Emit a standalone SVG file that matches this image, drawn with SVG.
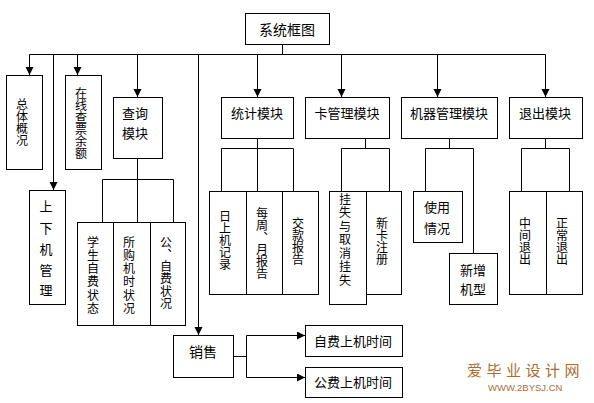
<svg xmlns="http://www.w3.org/2000/svg" width="594" height="403" viewBox="0 0 594 403">
<defs>
<marker id="arr" markerUnits="userSpaceOnUse" markerWidth="9" markerHeight="9" refX="8" refY="4" orient="auto">
<path d="M0,0 L8,4 L0,8 z" fill="#000"/>
</marker>
<style>
.b{fill:#fff;stroke:#000;stroke-width:1}
.c{fill:none;stroke:#000;stroke-width:1}
.t{font-family:"Noto Sans CJK SC","Liberation Sans",sans-serif;font-size:13px;fill:#000;text-anchor:middle}
.v{font-family:"Noto Sans CJK SC","Liberation Sans",sans-serif;font-size:12px;fill:#000;writing-mode:vertical-rl}
.wm{font-family:"Noto Sans CJK SC",serif;fill:#a86f35}
</style>
</defs>
<rect width="594" height="403" fill="#fff"/>
<g id="connectors">
<path class="c" d="M282.5 44 V54.5 M29.5 54.5 H545.5"/>
<path class="c" marker-end="url(#arr)" d="M29.5 54.5 V75"/>
<path class="c" marker-end="url(#arr)" d="M53.5 54.5 V190"/>
<path class="c" marker-end="url(#arr)" d="M77.5 54.5 V75"/>
<path class="c" marker-end="url(#arr)" d="M137.5 54.5 V97"/>
<path class="c" marker-end="url(#arr)" d="M198.5 54.5 V335"/>
<path class="c" marker-end="url(#arr)" d="M257.5 54.5 V97"/>
<path class="c" marker-end="url(#arr)" d="M341.5 54.5 V97"/>
<path class="c" marker-end="url(#arr)" d="M437.5 54.5 V97"/>
<path class="c" marker-end="url(#arr)" d="M545.5 54.5 V97"/>
<path class="c" d="M137.5 158 V222 M102.5 222 V179.5 H173.5 V222"/>
<path class="c" d="M257.5 138 V191 M221.5 191 V148.5 H293.5 V191"/>
<path class="c" d="M365.5 138 V148.5 M341.5 191 V148.5 H389.5 V191"/>
<path class="c" d="M449.5 138 V148.5 M425.5 191 V148.5 H473.5 V253"/>
<path class="c" d="M545.5 138 V148.5 M521.5 191 V148.5 H569.5 V191"/>
<path class="c" d="M233 356.5 H246.5 M246.5 335.5 V377.5"/>
<path class="c" marker-end="url(#arr)" d="M246.5 335.5 H305"/>
<path class="c" marker-end="url(#arr)" d="M246.5 377.5 H305"/>
</g>
<g id="root"><rect class="b" x="245.5" y="13.5" width="84" height="31"/><text class="t" x="287" y="35" style="font-size:14px">系统框图</text></g>
<g id="zongti"><rect class="b" x="6.5" y="75.5" width="36" height="94"/><text class="v" x="22" y="98">总体概况</text></g>
<g id="zaixian"><rect class="b" x="65.5" y="75.5" width="36" height="94"/><text class="v" x="81" y="87">在线查票余额</text></g>
<g id="shangxiaji"><rect class="b" x="29.5" y="190.5" width="36" height="114"/>
<text class="t" x="46" y="211">上</text><text class="t" x="46" y="233">下</text><text class="t" x="46" y="254">机</text><text class="t" x="46" y="275">管</text><text class="t" x="46" y="295">理</text></g>
<g id="chaxun"><rect class="b" x="113.5" y="97.5" width="49" height="61"/><text class="t" x="135" y="118">查询</text><text class="t" x="135" y="138">模块</text></g>
<g id="tongji"><rect class="b" x="221.5" y="97.5" width="72" height="41"/><text class="t" x="257" y="118">统计模块</text></g>
<g id="kaguanli"><rect class="b" x="305.5" y="97.5" width="84" height="41"/><text class="t" x="347" y="118">卡管理模块</text></g>
<g id="jiqi"><rect class="b" x="401.5" y="97.5" width="96" height="41"/><text class="t" x="449" y="118">机器管理模块</text></g>
<g id="tuichu"><rect class="b" x="509.5" y="97.5" width="73" height="41"/><text class="t" x="545" y="118">退出模块</text></g>
<g id="xuesheng"><rect class="b" x="77.5" y="222.5" width="36" height="103"/><text class="v" x="93" y="236" style="letter-spacing:1.3px">学生自费状态</text></g>
<g id="suogou"><rect class="b" x="113.5" y="222.5" width="37" height="103"/><text class="v" x="129" y="236" style="letter-spacing:1.3px">所购机时状况</text></g>
<g id="gongzi"><rect class="b" x="150.5" y="222.5" width="35" height="103"/><text class="v" x="166" y="236" style="letter-spacing:0.3px">公、自费状况</text></g>
<g id="rishangji"><rect class="b" x="209.5" y="191.5" width="37" height="103"/><text class="v" x="225" y="210">日上机记录</text></g>
<g id="meizhou"><rect class="b" x="246.5" y="191.5" width="36" height="103"/><text class="v" x="262" y="207">每周、月报告</text></g>
<g id="jiaokuan"><rect class="b" x="282.5" y="191.5" width="36" height="103"/><text class="v" x="298" y="217">交款报告</text></g>
<g id="guashi"><rect class="b" x="329.5" y="191.5" width="37" height="113"/><text class="v" x="345" y="193" style="letter-spacing:1.5px">挂失与取消挂失</text></g>
<g id="xinka"><rect class="b" x="366.5" y="191.5" width="35" height="103"/><text class="v" x="382" y="217">新卡注册</text></g>
<g id="shiyong"><rect class="b" x="413.5" y="191.5" width="49" height="51"/><text class="t" x="437" y="212">使用</text><text class="t" x="437" y="233">情况</text></g>
<g id="xinzeng"><rect class="b" x="449.5" y="253.5" width="48" height="51"/><text class="t" x="473" y="275">新增</text><text class="t" x="473" y="294">机型</text></g>
<g id="zhongjian"><rect class="b" x="509.5" y="191.5" width="37" height="103"/><text class="v" x="525" y="217">中间退出</text></g>
<g id="zhengchang"><rect class="b" x="546.5" y="191.5" width="36" height="103"/><text class="v" x="562" y="217">正常退出</text></g>
<g id="xiaoshou"><rect class="b" x="173.5" y="335.5" width="60" height="42"/><text class="t" x="203" y="357" style="font-size:14px">销售</text></g>
<g id="zifei"><rect class="b" x="305.5" y="325.5" width="97" height="31"/><text class="t" x="353" y="346">自费上机时间</text></g>
<g id="gongfei"><rect class="b" x="305.5" y="367.5" width="97" height="30"/><text class="t" x="353" y="387">公费上机时间</text></g>
<g id="watermark">
<text class="wm" x="467" y="376" style="font-size:15px;letter-spacing:4.5px">爱毕业设计网</text>
<text class="wm" x="488" y="391" style="font-family:'Liberation Sans',sans-serif;font-size:9.5px">WWW.2BYSJ.CN</text>
</g>
</svg>
